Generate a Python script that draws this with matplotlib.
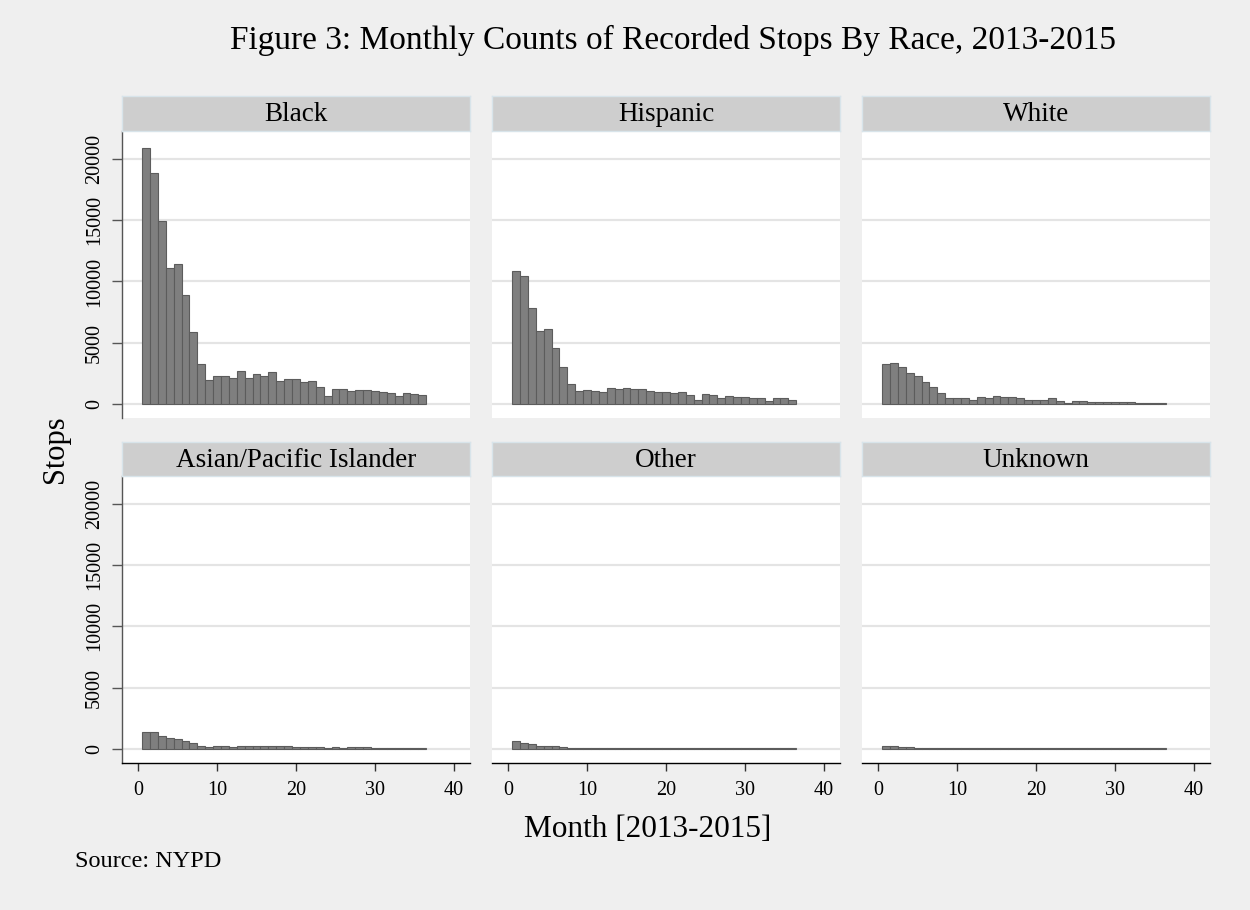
import matplotlib
matplotlib.use("Agg")
import matplotlib.pyplot as plt
import numpy as np

plt.rcParams['font.family'] = ['Liberation Serif', 'DejaVu Serif']

months = list(range(1, 37))
panel_names = ["Black", "Hispanic", "White", "Asian/Pacific Islander", "Other", "Unknown"]

black = [20900, 18860, 14930, 11090, 11440, 8910, 5910, 3270, 1990, 2320, 2320, 2150,
         2700, 2150, 2430, 2320, 2590, 1910, 2070, 2070, 1800, 1910, 1390, 630,
         1230, 1230, 1060, 1140, 1140, 1060, 980, 870, 630, 870, 790, 710]
hispanic = [10820, 10410, 7850, 5990, 6080, 4550, 3000, 1630, 1040, 1140, 1060, 950,
            1310, 1230, 1310, 1230, 1230, 1060, 950, 950, 870, 950, 710, 350,
            790, 710, 520, 630, 545, 545, 460, 460, 270, 460, 460, 350]
white = [3270, 3350, 3000, 2510, 2320, 1830, 1390, 870, 460, 460, 460, 350,
         545, 460, 630, 545, 545, 460, 350, 350, 350, 460, 270, 110,
         270, 270, 190, 190, 190, 190, 190, 190, 110, 110, 110, 110]
asian = [1340, 1340, 1070, 900, 790, 660, 490, 250, 140, 220, 220, 140,
         220, 220, 220, 220, 220, 220, 220, 140, 140, 140, 140, 50,
         140, 50, 140, 140, 140, 50, 50, 50, 50, 50, 50, 50]
other = [630, 490, 380, 220, 220, 220, 140, 40, 40, 40, 40, 40,
         40, 40, 40, 40, 40, 40, 40, 40, 40, 40, 40, 40,
         40, 40, 40, 40, 40, 40, 40, 40, 40, 40, 40, 40]
unknown = [220, 220, 140, 140, 40, 40, 40, 40, 40, 40, 40, 40,
           40, 40, 40, 40, 40, 40, 40, 40, 40, 40, 40, 40,
           40, 40, 40, 40, 40, 40, 40, 40, 40, 40, 40, 40]
series = [black, hispanic, white, asian, other, unknown]

y_ticks = [0, 5000, 10000, 15000, 20000]
x_ticks = [0, 10, 20, 30, 40]

BG = '#efefef'
fig = plt.figure(figsize=(12.5, 9.1), dpi=100, facecolor=BG)

W, H = 1250.0, 910.0
col_x = [122, 492, 862]
pw = 348
rows = [(131.5, 418), (476, 763)]
strips = [(96, 131.5), (442, 476)]

for i, (name, vals) in enumerate(zip(panel_names, series)):
    r, c = divmod(i, 3)
    top, bot = rows[r]
    ax = fig.add_axes([col_x[c] / W, 1 - bot / H, pw / W, (bot - top) / H])
    ax.set_facecolor('white')
    ax.set_xlim(-2.05, 42.05)
    ax.set_ylim(-1150, 22250)
    for yt in y_ticks:
        ax.axhline(yt, color='#e4e4e4', lw=1.6, zorder=0)
    ax.bar(months, vals, width=1.0, color='#7f7f7f', edgecolor='#5c5c5c',
           linewidth=0.8, zorder=2)
    for s in ax.spines.values():
        s.set_visible(False)
    ax.set_yticks(y_ticks)
    ax.set_xticks(x_ticks)
    if c == 0:
        ax.spines['left'].set_visible(True)
        ax.spines['left'].set_color('#555555')
        ax.spines['left'].set_linewidth(1.0)
        ax.tick_params(axis='y', length=7, width=1.0, color='#555555', pad=6,
                       labelsize=14.5, labelrotation=90)
        for lab in ax.get_yticklabels():
            lab.set_va('center')
    else:
        ax.tick_params(axis='y', left=False, labelleft=False)
    if r == 1:
        ax.spines['bottom'].set_visible(True)
        ax.spines['bottom'].set_color('black')
        ax.spines['bottom'].set_linewidth(1.0)
        ax.tick_params(axis='x', length=6, width=1.0, color='#333333', pad=7,
                       labelsize=14.5)
    else:
        ax.tick_params(axis='x', bottom=False, labelbottom=False)

    st, sb = strips[r]
    sax = fig.add_axes([col_x[c] / W, 1 - sb / H, pw / W, (sb - st) / H])
    sax.set_facecolor('#cecece')
    sax.set_xticks([])
    sax.set_yticks([])
    for s in sax.spines.values():
        s.set_color('#d8e4ea')
        s.set_linewidth(1.0)
    sax.text(0.5, 0.47, name, ha='center', va='center', fontsize=19.5,
             transform=sax.transAxes)

fig.text(0.538, 0.956, 'Figure 3: Monthly Counts of Recorded Stops By Race, 2013-2015',
         ha='center', va='center', fontsize=24)
fig.text(0.044, 0.506, 'Stops', rotation=90, ha='center', va='center', fontsize=22)
fig.text(0.518, 0.088, 'Month [2013-2015]', ha='center', va='center', fontsize=22.5)
fig.text(0.060, 0.053, 'Source: NYPD', ha='left', va='center', fontsize=17.5)

fig.savefig('out.png', dpi=100, facecolor=BG)
